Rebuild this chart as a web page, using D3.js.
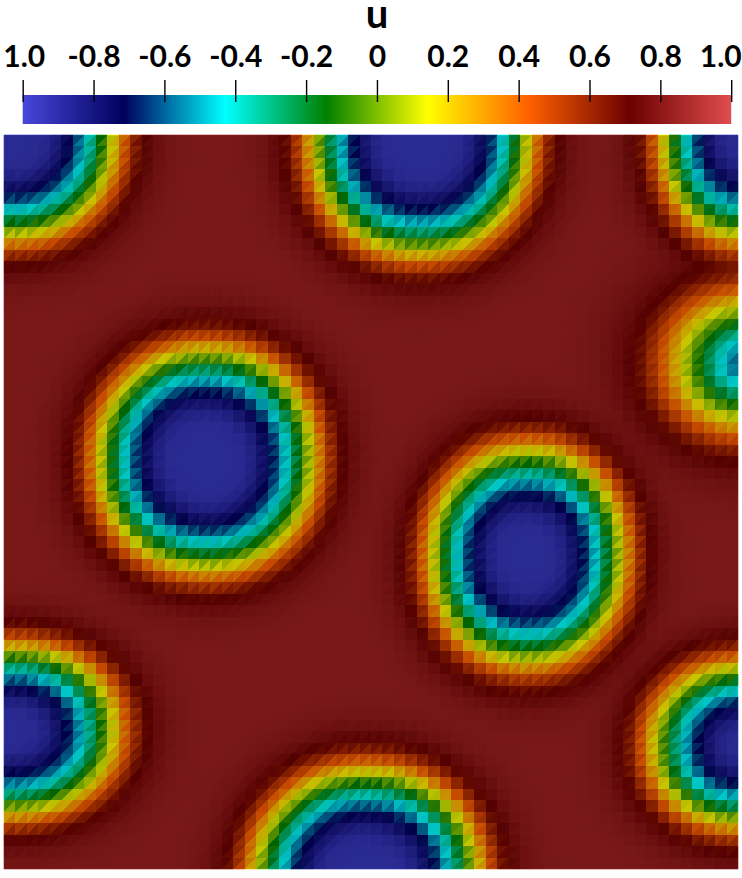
<!DOCTYPE html>
<html lang="en">

<head>
  <meta charset="UTF-8">
  <title>u</title>
  <script src="https://d3js.org/d3.v7.min.js"></script>
  <style>
    html, body { margin: 0; padding: 0; background: #fff; }
    svg { display: block; }
    text { font-family: Lato, sans-serif; font-weight: 700; fill: #000; }
  </style>
</head>

<body>
  <div id="container"></div>

  <script>
    // colour bar
    var tickValues = [-1, -0.8, -0.6, -0.4, -0.2, 0, 0.2, 0.4, 0.6, 0.8, 1];
    var tickLabels = ["1.0", "-0.8", "-0.6", "-0.4", "-0.2", "0", "0.2", "0.4", "0.6", "0.8", "1.0"];
    var colorStops = [-1, -0.714, -0.428, -0.143, 0.143, 0.428, 0.714, 1];
    var colorValues = ["#4747db", "#00005c", "#00ffff", "#008000", "#ffff00", "#ff6100", "#6b0000", "#e04d4d"];

    // droplets, in mesh cells: centre and radius of the u=0 ring,
    // and how wide the band around it is
    var dropletX = [0.8, 36.3, 64.5, 64.9, 17.6, 45.6, 0.7, 31.6, 64.4];
    var dropletY = [0.2, 0.4, 0, 19.9, 28.3, 36.7, 51.9, 65, 53.2];
    var dropletRx = [8.1, 8.8, 6.5, 5.0, 8.7, 7.7, 8.2, 9.1, 7.1];
    var dropletRy = [8.0, 9.2, 8.2, 4.3, 8.9, 8.6, 6.6, 8.9, 6.3];
    var dropletBand = [1, 1, 1, 1.45, 1, 1, 1, 1, 1];

    // u against distance from the ring, read across the bands (cells)
    var profileDist = [-6, -5, -4, -3, -2, -1, 0, 1, 2, 3, 4, 5, 6, 8];
    var profileU = [-0.93, -0.91, -0.84, -0.71, -0.5, -0.27, 0, 0.27, 0.5, 0.7, 0.77, 0.8, 0.82, 0.83];

    var cells = 64;
    var shade = 0.78; // the 3d view is lit, so the surface is darker than the bar

    var svg = d3.select("#container")
      .append("svg")
      .attr("width", 742)
      .attr("height", 878);

    var x = d3.scaleLinear().domain([0, cells]).range([4, 738]);
    var y = d3.scaleLinear().domain([0, cells]).range([135, 869]);
    var barX = d3.scaleLinear().domain([-1, 1]).range([22.7, 731.2]);
    var color = d3.scaleLinear().domain(colorStops).range(colorValues).clamp(true);
    var profile = d3.scaleLinear().domain(profileDist).range(profileU).clamp(true);

    function fieldAt(i, j) {
      var d = d3.min(dropletX, function (cx, k) {
        var rx = dropletRx[k], ry = dropletRy[k];
        // slightly squared off, the rings are not true circles
        var n = Math.pow(Math.pow(Math.abs(i - cx) / rx, 2.1) + Math.pow(Math.abs(j - dropletY[k]) / ry, 2.1), 1 / 2.1);
        return (n - 1) * Math.sqrt(rx * ry) / dropletBand[k];
      });
      return profile(d);
    }

    // each mesh square is split by a / diagonal, one flat colour per triangle
    var triangles = [];
    d3.range(cells).forEach(function (j) {
      d3.range(cells).forEach(function (i) {
        triangles.push({ pts: [[i, j], [i + 1, j], [i, j + 1]] });
        triangles.push({ pts: [[i + 1, j], [i + 1, j + 1], [i, j + 1]] });
      });
    });

    function triColor(d) {
      var u = d3.mean(d.pts, function (p) { return fieldAt(p[0], p[1]); });
      var c = d3.rgb(color(u));
      return d3.rgb(c.r * shade, c.g * shade, c.b * shade).formatHex();
    }

    svg.append("g")
      .selectAll("path")
      .data(triangles)
      .enter()
      .append("path")
      .attr("d", function (d) {
        return "M" + d.pts.map(function (p) { return x(p[0]) + "," + y(p[1]); }).join("L") + "Z";
      })
      .attr("fill", triColor)
      .attr("shape-rendering", "crispEdges");

    // the outline of the surface is not lit, so it shows up brighter
    var edges = [];
    d3.range(cells).forEach(function (t) {
      edges.push([[t, 0], [t + 1, 0]], [[t, cells], [t + 1, cells]], [[0, t], [0, t + 1]], [[cells, t], [cells, t + 1]]);
    });
    svg.append("g")
      .selectAll("line")
      .data(edges)
      .enter()
      .append("line")
      .attr("x1", function (d) { return x(d[0][0]); })
      .attr("y1", function (d) { return y(d[0][1]); })
      .attr("x2", function (d) { return x(d[1][0]); })
      .attr("y2", function (d) { return y(d[1][1]); })
      .attr("stroke", function (d) { return color(d3.mean(d, function (p) { return fieldAt(p[0], p[1]); })); })
      .attr("stroke-width", 1)
      .attr("stroke-opacity", 0.6);

    // colour bar gradient
    var gradient = svg.append("defs")
      .append("linearGradient")
      .attr("id", "bar");
    gradient.selectAll("stop")
      .data(colorStops)
      .enter()
      .append("stop")
      .attr("offset", function (d) { return (d + 1) / 2; })
      .attr("stop-color", function (d, i) { return colorValues[i]; });

    svg.append("rect")
      .attr("x", barX(-1))
      .attr("y", 95)
      .attr("width", barX(1) - barX(-1))
      .attr("height", 29)
      .attr("fill", "url(#bar)");

    var axis = d3.axisTop(barX)
      .tickValues(tickValues)
      .tickSize(22)
      .tickPadding(13)
      .tickFormat(function (d, i) { return tickLabels[i]; });

    var axisG = svg.append("g")
      .attr("transform", "translate(0,102)")
      .call(axis);
    axisG.select(".domain").remove();
    axisG.selectAll("line").attr("stroke", "#000").attr("stroke-width", 1.4);
    axisG.selectAll("text")
      .attr("font-size", 30)
      .attr("fill", "#000")
      .attr("dx", function (d, i) { return i === 0 ? 1 : (i === tickValues.length - 1 ? -11 : 0); });

    svg.append("text")
      .attr("x", 377)
      .attr("y", 28)
      .attr("text-anchor", "middle")
      .attr("font-size", 40)
      .text("u");
  </script>
</body>

</html>
